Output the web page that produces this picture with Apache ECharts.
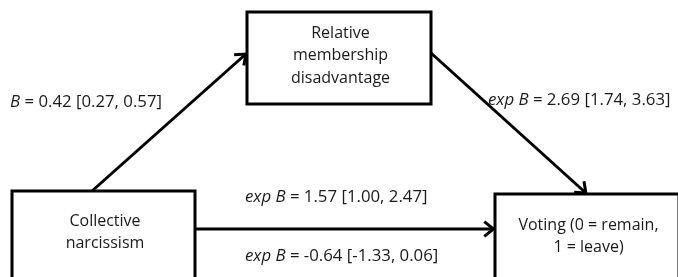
<!DOCTYPE html>
<html>
<head>
<meta charset="utf-8">
<script src="https://cdn.jsdelivr.net/npm/echarts@6/dist/echarts.min.js"></script>
<style>
  html, body { margin: 0; padding: 0; background: #fff; }
  #main { width: 678px; height: 277px; }
</style>
</head>
<body>
<div id="main"></div>
<script>
// boxes of the path diagram (left, top, width, height in picture units)
const nodeNames = ['Relative\nmembership\ndisadvantage', 'Collective\nnarcissism', 'Voting (0 = remain,\n1 = leave)'];
const nodeX = [247, 12, 495];
const nodeY = [12, 191, 194];
const nodeW = [184, 183, 184];
const nodeH = [92, 88, 90];

// paths: source node/side/offset -> target node/side/offset
const edgeSource = [1, 0, 1];
const edgeSourceSide = ['top', 'right', 'right'];
const edgeSourceOffset = [80, 41, 38];
const edgeTarget = [0, 2, 2];
const edgeTargetSide = ['left', 'top', 'left'];
const edgeTargetOffset = [41, 92, 35];

// coefficient labels
const labelText = [
  '{i|B}{n| = 0.42 [0.27, 0.57]}',
  '{i|exp B}{n| = 2.69 [1.74, 3.63]}',
  '{i|exp B}{n| = 1.57 [1.00, 2.47]}',
  '{i|exp B}{n| = -0.64 [-1.33, 0.06]}'
];
const labelX = [10, 488, 245, 245];
const labelY = [102, 100, 197, 256];

var chartDom = document.getElementById('main');
var myChart = echarts.init(chartDom);
var option;

const FONT = 'Open Sans';
const FS_BOX = 16;
const FS = 16.8;

function anchor(i, side, off) {
  if (side === 'top') return [nodeX[i] + off, nodeY[i]];
  if (side === 'left') return [nodeX[i], nodeY[i] + off];
  if (side === 'right') return [nodeX[i] + nodeW[i], nodeY[i] + off];
  return [nodeX[i] + off, nodeY[i] + nodeH[i]];
}

const boxData = nodeNames.map((n, i) => [nodeX[i], nodeY[i], nodeW[i], nodeH[i], n]);
const edgeData = edgeSource.map((s, i) => {
  const a = anchor(s, edgeSourceSide[i], edgeSourceOffset[i]);
  const b = anchor(edgeTarget[i], edgeTargetSide[i], edgeTargetOffset[i]);
  return [a[0], a[1], b[0], b[1]];
});
const labelData = labelText.map((t, i) => [labelX[i], labelY[i], t]);

option = {
  animation: false,
  grid: { left: 0, right: 0, top: 0, bottom: 0 },
  xAxis: { type: 'value', min: 0, max: 678, show: false },
  yAxis: { type: 'value', min: 0, max: 277, inverse: true, show: false },
  series: [
    {
      type: 'custom',
      name: 'arrows',
      z: 1,
      data: edgeData,
      renderItem: function (params, api) {
        const p1 = api.coord([api.value(0), api.value(1)]);
        const p2 = api.coord([api.value(2), api.value(3)]);
        const ang = Math.atan2(p2[1] - p1[1], p2[0] - p1[0]);
        const len = 13, spread = 0.6;
        const h1 = [p2[0] - len * Math.cos(ang - spread), p2[1] - len * Math.sin(ang - spread)];
        const h2 = [p2[0] - len * Math.cos(ang + spread), p2[1] - len * Math.sin(ang + spread)];
        const tip = [p2[0] - 1.5 * Math.cos(ang), p2[1] - 1.5 * Math.sin(ang)];
        return {
          type: 'group',
          children: [
            { type: 'line', shape: { x1: p1[0], y1: p1[1], x2: tip[0], y2: tip[1] },
              style: { stroke: '#000', lineWidth: 3 } },
            { type: 'polyline', shape: { points: [h1, tip, h2] },
              style: { stroke: '#000', lineWidth: 3, fill: null, lineJoin: 'miter' } }
          ]
        };
      }
    },
    {
      type: 'custom',
      name: 'boxes',
      z: 2,
      data: boxData,
      renderItem: function (params, api) {
        const p = api.coord([api.value(0), api.value(1)]);
        const s = api.size([api.value(2), api.value(3)]);
        return {
          type: 'group',
          children: [
            { type: 'rect', shape: { x: p[0], y: p[1], width: s[0], height: s[1] },
              style: { fill: '#fff', stroke: '#000', lineWidth: 3 } },
            { type: 'text',
              style: { text: boxData[params.dataIndex][4], x: p[0] + s[0] / 2 + 1.5, y: p[1] + s[1] / 2 - 2.5,
                align: 'center', verticalAlign: 'middle', fontFamily: FONT, fontSize: FS_BOX,
                lineHeight: 22.5, fill: '#1a1a1a' } }
          ]
        };
      }
    },
    {
      type: 'custom',
      name: 'labels',
      z: 3,
      data: labelData,
      renderItem: function (params, api) {
        const p = api.coord([api.value(0), api.value(1)]);
        return {
          type: 'text',
          style: {
            text: labelData[params.dataIndex][2], x: p[0], y: p[1],
            align: 'left', verticalAlign: 'middle',
            fontFamily: FONT, fontSize: FS, fill: '#1a1a1a',
            rich: {
              i: { fontStyle: 'italic', fontFamily: FONT, fontSize: FS, fill: '#1a1a1a' },
              n: { fontFamily: FONT, fontSize: FS, fill: '#1a1a1a' }
            }
          }
        };
      }
    }
  ]
};

option && myChart.setOption(option);
</script>
</body>
</html>
